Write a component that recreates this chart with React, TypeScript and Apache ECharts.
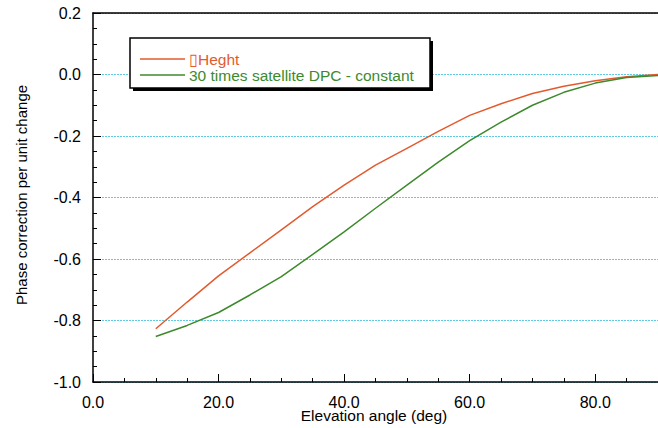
import React, { useEffect, useRef } from "react";
import * as echarts from "echarts";

const elevation = [10, 15, 20, 25, 30, 35, 40, 45, 50, 55, 60, 65, 70, 75, 80, 85, 90];
const heightSeries = [-0.827, -0.74, -0.655, -0.58, -0.505, -0.43, -0.36, -0.295, -0.24, -0.185, -0.133, -0.095, -0.062, -0.038, -0.02, -0.007, 0];
const dpcSeries = [-0.852, -0.816, -0.774, -0.717, -0.657, -0.585, -0.512, -0.435, -0.36, -0.285, -0.215, -0.155, -0.1, -0.058, -0.028, -0.01, -0.003];
const seriesNames = ["\u25AFHeght", "30 times satellite DPC - constant"];
const seriesColors = ["#e35a2e", "#3d8a2c"];
const xTitle = "Elevation angle (deg)";
const yTitle = "Phase correction per unit change";

const FONT = "'Liberation Sans', Arial, sans-serif";

export default function App() {
  const ref = useRef<HTMLDivElement>(null);
  useEffect(() => {
    if (!ref.current) return;
    const chart = echarts.init(ref.current, null, { renderer: "svg" });
    const pairs = (ys: number[]) => elevation.map((x, i) => [x, ys[i]]);
    chart.setOption({
      animation: false,
      backgroundColor: "#ffffff",
      textStyle: { fontFamily: FONT },
      grid: { left: 93, right: 0, top: 13, bottom: 46, containLabel: false },
      xAxis: [
        {
          type: "value",
          min: 0,
          max: 90,
          interval: 20,
          axisLine: { show: true, onZero: false, lineStyle: { color: "#000", width: 1.5 } },
          axisTick: { show: true, inside: true, length: 8, lineStyle: { color: "#000" } },
          minorTick: { show: true, splitNumber: 4, length: 4, lineStyle: { color: "#000" } },
          axisLabel: {
            fontSize: 16,
            color: "#000",
            margin: 12,
            fontFamily: FONT,
            formatter: (v: number) => v.toFixed(1),
            showMaxLabel: false,
          },
          splitLine: { show: false },
        },
        {
          type: "value",
          position: "top",
          min: 0,
          max: 90,
          axisLine: { show: true, onZero: false, lineStyle: { color: "#000", width: 1.5 } },
          axisTick: { show: false },
          axisLabel: { show: false },
          splitLine: { show: false },
        },
      ],
      yAxis: {
        type: "value",
        min: -1.0,
        max: 0.2,
        interval: 0.2,
        axisLine: { show: true, onZero: false, lineStyle: { color: "#000", width: 1.5 } },
        axisTick: { show: true, inside: true, length: 8, lineStyle: { color: "#000" } },
        minorTick: { show: true, splitNumber: 4, length: 4, lineStyle: { color: "#000" } },
        axisLabel: {
          fontSize: 16,
          color: "#000",
          margin: 12,
          fontFamily: FONT,
          formatter: (v: number) => v.toFixed(1),
        },
        splitLine: { show: true, lineStyle: { color: "#5fcbe3", type: [2, 1], width: 1 } },
      },
      legend: {
        show: true,
        orient: "vertical",
        left: 140,
        top: 51,
        icon: "rect",
        itemWidth: 45,
        itemHeight: 1.5,
        itemGap: 0,
        padding: 0,
        textStyle: { fontSize: 15.5, lineHeight: 16, fontFamily: FONT, padding: [0, 0, 0, -1] },
        data: seriesNames.map((n, i) => ({ name: n, textStyle: { color: seriesColors[i] } })),
        z: 10,
      },
      graphic: [
        { type: "rect", shape: { x: 133, y: 41, width: 300, height: 50 }, style: { fill: "#000" }, z: 5 },
        { type: "rect", shape: { x: 130, y: 38, width: 300, height: 50 }, style: { fill: "#fff", stroke: "#000", lineWidth: 1.5 }, z: 6 },
        {
          type: "text",
          x: 374,
          y: 415,
          style: { text: xTitle, fontSize: 15.5, fontFamily: FONT, fill: "#000", align: "center", verticalAlign: "middle" },
        },
        {
          type: "text",
          x: 21,
          y: 195,
          rotation: Math.PI / 2,
          style: { text: yTitle, fontSize: 15, fontFamily: FONT, fill: "#000", align: "center", verticalAlign: "middle" },
        },
      ],
      series: [
        {
          name: seriesNames[0],
          type: "line",
          data: pairs(heightSeries),
          symbol: "none",
          lineStyle: { color: seriesColors[0], width: 1.5 },
          itemStyle: { color: seriesColors[0] },
          z: 3,
        },
        {
          name: seriesNames[1],
          type: "line",
          data: pairs(dpcSeries),
          symbol: "none",
          lineStyle: { color: seriesColors[1], width: 1.5 },
          itemStyle: { color: seriesColors[1] },
          z: 3,
        },
      ],
    });
    return () => chart.dispose();
  }, []);
  return <div ref={ref} style={{ position: "fixed", left: 0, top: 0, width: 658, height: 428 }} />;
}
